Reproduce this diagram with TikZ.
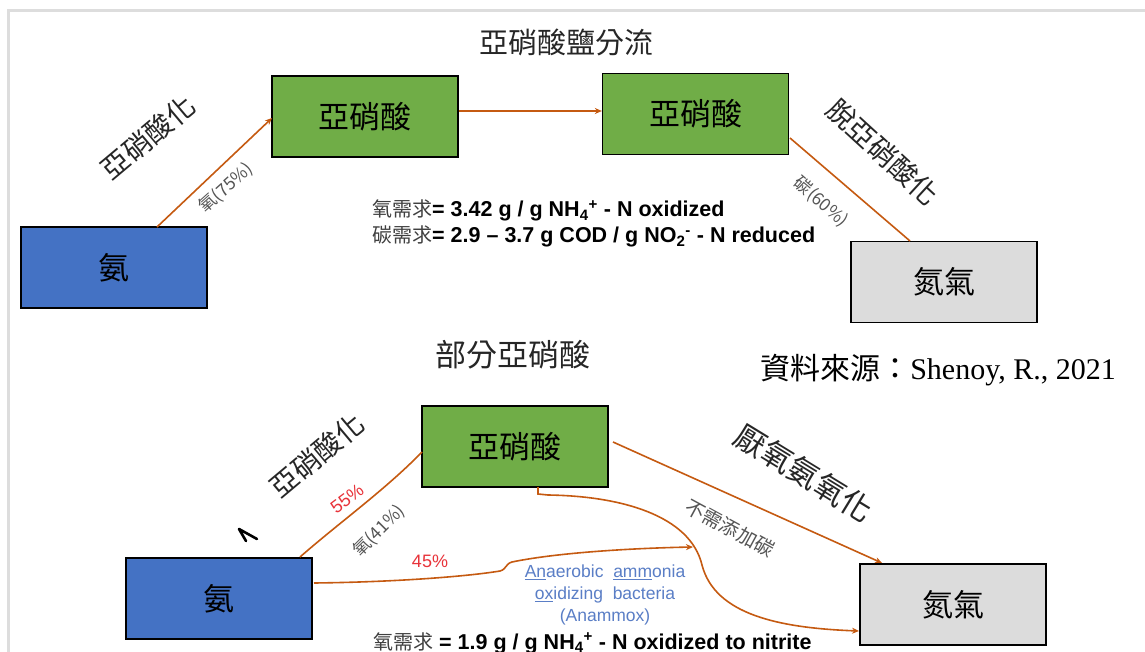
\documentclass[tikz,border=0pt]{standalone}
\usepackage{fontspec}
\setmainfont{Liberation Serif}
\setsansfont{Liberation Sans}
\newfontfamily\cjk{Noto Sans CJK TC}
\usetikzlibrary{arrows.meta}
\definecolor{arr}{HTML}{C55A11}
\definecolor{bluebox}{HTML}{4472C4}
\definecolor{greenbox}{HTML}{70AD47}
\definecolor{graybox}{HTML}{DCDCDC}
\definecolor{frame}{HTML}{DDDDDD}
\definecolor{lbl}{HTML}{555555}
\definecolor{redtxt}{HTML}{E8333A}
\definecolor{bact}{HTML}{5A7EC6}
\tikzset{
  box/.style={draw=black, line width=1.3pt, minimum width=186pt, minimum height=81pt, inner sep=0pt, font=\cjk\fontsize{31}{34}\selectfont},
  conn/.style={draw=arr, line width=1.6pt},
  tip/.style={-{Stealth[length=7pt,width=6pt]}},
  big/.style={font=\cjk\fontsize{28}{30}\selectfont, text=black!85},
  small/.style={font=\cjk\fontsize{17.5}{19}\selectfont, text=lbl},
  pct/.style={font=\sffamily\fontsize{18}{20}\selectfont, text=redtxt},
  eq/.style={anchor=base west, inner sep=0pt, font=\sffamily\bfseries\fontsize{21.5}{24}\selectfont},
  head/.style={font=\cjk\fontsize{29}{32}\selectfont, text=black!85},
}
\newcommand{\cj}[1]{{\cjk\mdseries\fontsize{20}{22}\selectfont\color{black!75}#1}}
\begin{document}
\begin{tikzpicture}[x=1pt,y=-1pt]
\useasboundingbox (0,0) rectangle (1145,652);
\fill[white] (0,0) rectangle (1145,652);
% frame
\draw[frame, line width=3pt] (8,652) -- (8,11) -- (1145,11);

% ---- top diagram ----
\node[head] (t1) at (566,42) {亞硝酸鹽分流};
\node[box, fill=bluebox] (a1) at (114,267.5) {氨};
\node[box, fill=greenbox] (n1) at (365,116.5) {亞硝酸};
\node[box, fill=greenbox] (n2) at (695.5,114) {亞硝酸};
\node[box, fill=graybox] (g1) at (944,282) {氮氣};

\coordinate (a1s) at (157,227);
\coordinate (n1w) at (272,118);
\draw[conn, tip] (a1s) -- (n1w);
\draw[conn, tip] (n1.east |- 0,111) -- (n2.west |- 0,111);
\coordinate (n2e) at (790,138);
\coordinate (g1n) at (910,241);
\draw[conn] (n2e) -- (g1n);

\node[big, rotate=40] (l1) at (148,137) {亞硝酸化};
\node[small, rotate=42] (l2) at (226,188) {氧(75\%)};
\node[big, rotate=-42.5] (l3) at (883,152) {脫亞硝酸化};
\node[small, rotate=-41] (l4) at (821,202) {碳(60\%)};

\node[eq] (e1) at (372,217) {\cj{氧需求}= 3.42 g / g NH\textsubscript{4}\textsuperscript{+} - N oxidized};
\node[eq] (e2) at (372,243) {\cj{碳需求}= 2.9 – 3.7 g COD / g NO\textsubscript{2}\textsuperscript{-} - N reduced};

% ---- bottom diagram ----
\node[head, font=\cjk\fontsize{31}{34}\selectfont] (t2) at (513,355) {部分亞硝酸};
\node[anchor=base east, inner sep=0pt, font=\fontsize{30}{33}\selectfont] (src) at (1116,379) {{\cjk 資料來源：}Shenoy, R., 2021};

\node[box, fill=bluebox] (a2) at (219,598.5) {氨};
\node[box, fill=greenbox] (n3) at (515,446.5) {亞硝酸};
\node[box, fill=graybox] (g2) at (953,604.5) {氮氣};

\coordinate (a2n) at (300,557);
\coordinate (n3w) at (422,452);
\draw[conn] (a2n) .. controls (340,522) and (385,490) .. (n3w);

\coordinate (a2e) at (314,583);
\coordinate (mid) at (693,547);
\draw[conn, tip] (a2e) .. controls (400,582) and (470,576) .. (500,571)
  .. controls (507,569) and (505,564) .. (512,562)
  .. controls (560,552) and (640,548) .. (mid);

\coordinate (n3s) at (538,487);
\coordinate (g2w) at (859,631);
\draw[conn, tip] (n3s) -- (538,494) -- (548,495)
  .. controls (620,496) and (690,515) .. (702,565)
  .. controls (715,615) and (780,628) .. (g2w);

\coordinate (n3e) at (613,442);
\coordinate (g2n) at (882,563);
\draw[conn, tip] (n3e) -- (g2n);

\draw[black, line width=2.6pt, line cap=round, line join=round] (246,541) -- (239,529) -- (257,539);

\node[big, rotate=40] (l5) at (317,455) {亞硝酸化};
\node[pct, rotate=37] (p1) at (347,499) {55\%};
\node[small, rotate=45] (l6) at (379,531) {氧(41\%)};
\node[pct] (p2) at (430,561) {45\%};
\node[big, font=\cjk\fontsize{31}{33}\selectfont, rotate=-31.5] (l7) at (804,473) {厭氧氨氧化};
\node[small, font=\cjk\fontsize{19.5}{21}\selectfont, rotate=-28.5] (l8) at (730,528) {不需添加碳};

\node[align=center, text=bact, font=\sffamily\fontsize{17.5}{22}\selectfont, inner sep=0pt] (bac) at (605,595)
  {\underline{An}aerobic\ \ \underline{amm}onia\\\underline{ox}idizing\ \ bacteria\\(Anammox)};

\node[eq] (e3) at (373,649) {\cj{氧需求} = 1.9 g / g NH\textsubscript{4}\textsuperscript{+} - N oxidized to nitrite};
\end{tikzpicture}
\end{document}
